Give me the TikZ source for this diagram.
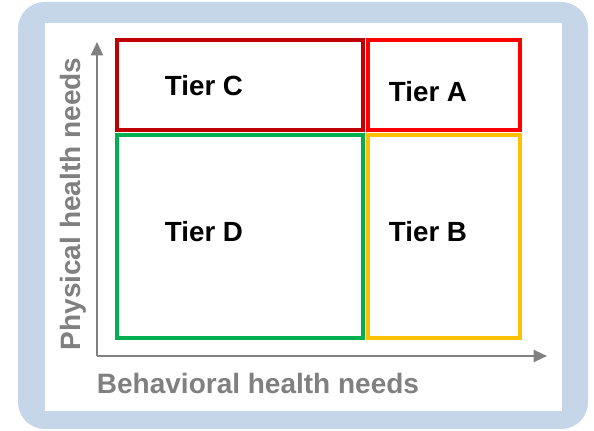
\documentclass[tikz,border=0pt]{standalone}
\usepackage{fontspec}
\setmainfont{Liberation Sans}
\usetikzlibrary{arrows.meta}
\definecolor{frameblue}{RGB}{198,214,233}
\definecolor{axisgray}{RGB}{128,128,128}
\definecolor{tierdarkred}{RGB}{192,0,0}
\definecolor{tierred}{RGB}{255,0,0}
\definecolor{tiergreen}{RGB}{0,176,80}
\definecolor{tierorange}{RGB}{255,192,0}
\begin{document}
\begin{tikzpicture}[x=0.75pt,y=0.75pt,yscale=-1,
	tierbox/.style={line width=2.7pt},
	tiertext/.style={inner sep=0.75pt,font=\fontsize{20.8}{24}\selectfont\bfseries},
	axislabel/.style={inner sep=0.75pt,text=axisgray,font=\fontsize{21}{24}\selectfont\bfseries},
	axis/.style={draw=axisgray,line width=1.6pt,-{Triangle[length=10pt,width=9pt]}}]
	\useasboundingbox (0,0) rectangle (594,431);
	
	%Frame
	\fill [frameblue, rounded corners=20pt] (18,2) rectangle (588,429) ;
	\fill [white] (45,23) rectangle (562,411) ;
	
	%Axes
	\coordinate (origin) at (97,356);
	\coordinate (ytip) at (97,42);
	\coordinate (xtip) at (547,356);
	\draw [axis] (origin) -- (ytip) ;
	\draw [axis] (origin) -- (xtip) ;
	
	%Tier boxes
	\draw [tierbox, tiergreen] (117,135) rectangle (363,338) ;
	\draw [tierbox, tierorange] (368,135) rectangle (520,338) ;
	\draw [tierbox, tierdarkred] (117,40) rectangle (363,130) ;
	\draw [tierbox, tierred] (368,40) rectangle (520,130) ;
	
	% Text Node
	\draw (204,86) node [tiertext] (tierC) {Tier C};
	% Text Node
	\draw (428,92) node [tiertext] (tierA) {Tier A};
	% Text Node
	\draw (204,232) node [tiertext] (tierD) {Tier D};
	% Text Node
	\draw (428,232) node [tiertext] (tierB) {Tier B};
	% Text Node
	\draw (258,383) node [axislabel] (behav) {Behavioral health needs};
	% Text Node
	\draw (73,204) node [axislabel, rotate=90] (phys) {Physical health needs};
	
\end{tikzpicture}
\end{document}
